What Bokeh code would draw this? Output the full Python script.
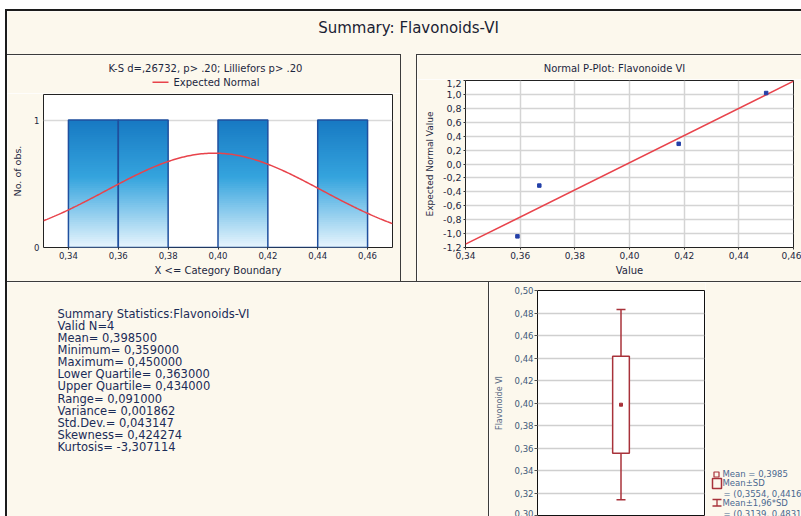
import numpy as np
from bokeh.plotting import figure
from bokeh.layouts import row, column
from bokeh.models import Range1d, FixedTicker, CustomJSTickFormatter, Div, Spacer
from bokeh.core.properties import value
from bokeh.embed import file_html
from bokeh.resources import INLINE

FONT = "DejaVu Sans"
BEIGE = "#fcf8ed"
RULE = "#3c3c3c"
OUTER = "#1c1c1c"
INK = "#1c2740"

# ---- data -----------------------------------------------------------------
VALUES = [0.359, 0.367, 0.418, 0.450]
MEAN = 0.3985
STD_DEV = 0.043147

BIN_EDGES = [0.34, 0.36, 0.38, 0.40, 0.42, 0.44, 0.46]
BIN_COUNTS = [1, 1, 0, 1, 0, 1]
HIST_X_TICKS = [0.34, 0.36, 0.38, 0.40, 0.42, 0.44, 0.46]
HIST_Y_TICKS = [0, 1]

EXPECTED_NORMAL = [-1.04, -0.31, 0.29, 1.02]
PPLOT_X_TICKS = [0.34, 0.36, 0.38, 0.40, 0.42, 0.44, 0.46]
PPLOT_Y_TICKS = [-1.2, -1.0, -0.8, -0.6, -0.4, -0.2, 0.0, 0.2, 0.4, 0.6, 0.8, 1.0, 1.2]

SUMMARY_LINES = [
    "Summary Statistics:Flavonoids-VI",
    "Valid N=4",
    "Mean= 0,398500",
    "Minimum= 0,359000",
    "Maximum= 0,450000",
    "Lower Quartile= 0,363000",
    "Upper Quartile= 0,434000",
    "Range= 0,091000",
    "Variance= 0,001862",
    "Std.Dev.= 0,043147",
    "Skewness= 0,424274",
    "Kurtosis= -3,307114",
]

BOX_MEAN = 0.3985
BOX_SD = [0.3554, 0.4416]
BOX_196SD = [0.3139, 0.4831]
BOX_Y_TICKS = [0.30, 0.32, 0.34, 0.36, 0.38, 0.40, 0.42, 0.44, 0.46, 0.48, 0.50]
BOX_LEGEND = ["Mean = 0,3985", "Mean±SD", "= (0,3554, 0,4416)",
              "Mean±1,96*SD", "= (0,3139, 0,4831)"]


# ---- helpers --------------------------------------------------------------
def comma_fmt(digits):
    return CustomJSTickFormatter(code=f"""
        const v = Math.abs(tick) < 1e-9 ? 0 : tick;
        return v.toFixed({digits}).replace('.', ',');
    """)


def strip(w, h, color):
    return Div(text="", width=w, height=h, margin=0,
               styles={"background-color": color})


def canvas(w, h):
    """A beige panel whose data space is its own pixel grid (y downward)."""
    p = figure(width=w, height=h, x_range=Range1d(0, w), y_range=Range1d(h, 0),
               output_backend="svg", toolbar_location=None, tools="",
               min_border=0, x_axis_location=None, y_axis_location=None,
               title=None, background_fill_color=BEIGE, frame_align=False,
               border_fill_color=BEIGE, outline_line_color=None, margin=0)
    p.grid.visible = False
    return p


def style_axis(ax, size, color=INK):
    ax.major_label_text_font = FONT
    ax.major_label_text_font_size = size
    ax.major_label_text_color = color
    ax.axis_label_text_font = FONT
    ax.axis_label_text_font_style = "normal"
    ax.axis_label_text_color = color
    ax.axis_line_color = None
    ax.minor_tick_line_color = None
    ax.major_tick_line_color = "#333333"


def txt(p, x, y, s, size, color=INK, align="left"):
    p.text(x=[x], y=[y], text=[s], text_font=value(FONT),
           text_font_size=size, text_color=color, text_align=align,
           text_baseline="middle")


# ---- title strip ----------------------------------------------------------
title_fig = canvas(794, 43)
txt(title_fig, 401, 16, "Summary: Flavonoids-VI", "15px", "#1a2233", "center")

# ---- histogram panel --------------------------------------------------------
headA = canvas(393, 38)
txt(headA, 198, 12.7, "K-S d=,26732, p> .20; Lilliefors p> .20", "10px", INK, "center")
headA.line(x=[145, 161], y=[26.7, 26.7], line_color="#e8434b", line_width=1.5)
txt(headA, 166, 26.7, "Expected Normal", "10px", INK)

plotA = figure(width=393, height=188, x_range=Range1d(0.33, 0.47),
               y_range=Range1d(0, 1.2), output_backend="svg",
               toolbar_location=None, tools="", title=None, margin=0,
               frame_align=False,
               min_border_left=36, min_border_right=8, min_border_top=1,
               min_border_bottom=34, background_fill_color="white",
               border_fill_color=BEIGE, outline_line_color="#222222")
plotA.xgrid.visible = False
plotA.ygrid.ticker = FixedTicker(ticks=HIST_Y_TICKS)
plotA.ygrid.grid_line_color = "#d9d9d9"
plotA.ygrid.grid_line_width = 1.5
plotA.xaxis.ticker = FixedTicker(ticks=HIST_X_TICKS)
plotA.xaxis.formatter = comma_fmt(2)
plotA.yaxis.ticker = FixedTicker(ticks=HIST_Y_TICKS)
plotA.yaxis.formatter = comma_fmt(0)
plotA.xaxis.axis_label = "X <= Category Boundary"
plotA.yaxis.axis_label = "No. of obs."
style_axis(plotA.xaxis[0], "8.5px")
style_axis(plotA.yaxis[0], "8.5px")
plotA.xaxis.axis_label_text_font_size = "10px"
plotA.yaxis.axis_label_text_font_size = "9.5px"
plotA.xaxis.major_tick_out = 2
plotA.xaxis.major_tick_in = 0
plotA.xaxis.major_label_standoff = 2
plotA.xaxis.axis_label_standoff = 3
plotA.yaxis.major_tick_out = 0
plotA.yaxis.major_tick_in = 0
plotA.yaxis.major_label_standoff = 4
plotA.yaxis.axis_label_standoff = 8

# bars with a vertical blue gradient, built from stacked slices
top_rgb = np.array([0x17, 0x79, 0xc2])
mid_rgb = np.array([0x35, 0xa4, 0xde])
low_rgb = np.array([0xe8, 0xf5, 0xfd])
n_slices = 60
sl_left, sl_right, sl_bot, sl_top, sl_col = [], [], [], [], []
for i, c in enumerate(BIN_COUNTS):
    if c <= 0:
        continue
    for k in range(n_slices):
        f = (k + 0.5) / n_slices  # 0 at bottom, 1 at top
        if f < 0.55:
            rgb = low_rgb + (mid_rgb - low_rgb) * (f / 0.55)
        else:
            rgb = mid_rgb + (top_rgb - mid_rgb) * ((f - 0.55) / 0.45)
        sl_left.append(BIN_EDGES[i])
        sl_right.append(BIN_EDGES[i + 1])
        sl_bot.append(c * k / n_slices)
        sl_top.append(min(c, c * (k + 1.4) / n_slices))
        sl_col.append("#%02x%02x%02x" % tuple(int(round(v)) for v in rgb))
plotA.quad(left=sl_left, right=sl_right, bottom=sl_bot, top=sl_top,
           fill_color=sl_col, line_color=None)
plotA.quad(left=BIN_EDGES[:-1], right=BIN_EDGES[1:], bottom=0, top=BIN_COUNTS,
           fill_color=None, line_color="#1f4f9e", line_width=1.5)

# expected normal curve scaled to counts per bin
bin_w = BIN_EDGES[1] - BIN_EDGES[0]
xs = np.linspace(0.33, 0.47, 200)
ys = len(VALUES) * bin_w * np.exp(-0.5 * ((xs - MEAN) / STD_DEV) ** 2) / (STD_DEV * np.sqrt(2 * np.pi))
plotA.line(x=xs, y=ys, line_color="#e8434b", line_width=1.5)

colA = column(headA, plotA, spacing=0, margin=0)

# ---- normal probability plot --------------------------------------------------
headB = canvas(384, 24)
txt(headB, 197, 12.7, "Normal P-Plot: Flavonoide VI", "10px", INK, "center")

plotB = figure(width=384, height=202, x_range=Range1d(0.34, 0.46),
               y_range=Range1d(-1.2, 1.2), output_backend="svg",
               toolbar_location=None, tools="", title=None, margin=0,
               frame_align=False,
               min_border_left=48, min_border_right=8, min_border_top=1,
               min_border_bottom=34, background_fill_color="white",
               border_fill_color=BEIGE, outline_line_color="#222222")
plotB.xaxis.ticker = FixedTicker(ticks=PPLOT_X_TICKS)
plotB.yaxis.ticker = FixedTicker(ticks=PPLOT_Y_TICKS)
plotB.xaxis.formatter = comma_fmt(2)
plotB.yaxis.formatter = comma_fmt(1)
plotB.grid.grid_line_color = "#d4d4d4"
plotB.grid.grid_line_width = 1.5
plotB.xaxis.axis_label = "Value"
plotB.yaxis.axis_label = "Expected Normal Value"
style_axis(plotB.xaxis[0], "9px")
style_axis(plotB.yaxis[0], "9.5px")
plotB.xaxis.axis_label_text_font_size = "10px"
plotB.yaxis.axis_label_text_font_size = "9px"
plotB.xaxis.major_tick_out = 2
plotB.xaxis.major_tick_in = 0
plotB.xaxis.major_label_standoff = 2
plotB.xaxis.axis_label_standoff = 3
plotB.yaxis.major_tick_out = 2
plotB.yaxis.major_tick_in = 0
plotB.yaxis.major_label_standoff = 2
plotB.yaxis.axis_label_standoff = 5

slope, icept = np.polyfit(VALUES, EXPECTED_NORMAL, 1)
fx = np.array([0.34, 0.46])
plotB.line(x=fx, y=slope * fx + icept, line_color="#e8434b", line_width=1.5)
plotB.scatter(x=VALUES, y=EXPECTED_NORMAL, marker="square", size=3.5,
              fill_color="#2440a8", line_color="#2440a8")

colB = column(headB, plotB, spacing=0, margin=0)

row1 = row(colA, strip(1, 226, RULE), strip(15, 226, BEIGE), strip(1, 226, RULE),
           colB, spacing=0, margin=0)
line_row = row(strip(394, 1, RULE), strip(15, 1, BEIGE), strip(385, 1, RULE),
               spacing=0, margin=0)

# ---- summary statistics text ---------------------------------------------
figC = canvas(481, 234)
figC.text(x=[50] * len(SUMMARY_LINES),
          y=[31 + 12.15 * i for i in range(len(SUMMARY_LINES))],
          text=SUMMARY_LINES, text_font=value(FONT), text_font_size="11.5px",
          text_color="#1b2c58", text_align="left", text_baseline="middle")

# ---- box plot -------------------------------------------------------------
BOX_RED = "#a8323a"
plotD = figure(width=216, height=234, x_range=Range1d(0, 1),
               y_range=Range1d(0.30, 0.50), output_backend="svg",
               toolbar_location=None, tools="", title=None, margin=0,
               x_axis_location=None, frame_align=False,
               min_border_left=48, min_border_right=1, min_border_top=8,
               min_border_bottom=1, background_fill_color="white",
               border_fill_color=BEIGE, outline_line_color="#111111")
plotD.xgrid.visible = False
plotD.ygrid.ticker = FixedTicker(ticks=BOX_Y_TICKS)
plotD.ygrid.grid_line_color = "#cfcfcf"
plotD.ygrid.grid_line_width = 1.5
plotD.yaxis.ticker = FixedTicker(ticks=BOX_Y_TICKS)
plotD.yaxis.formatter = comma_fmt(2)
plotD.yaxis.axis_label = "Flavonoide VI"
style_axis(plotD.yaxis[0], "8.5px", "#3f5878")
plotD.yaxis.axis_label_text_font_size = "8px"
plotD.yaxis.axis_label_text_color = "#5a6a84"
plotD.yaxis.major_tick_out = 3
plotD.yaxis.major_tick_in = 0
plotD.yaxis.major_tick_line_color = "#555555"
plotD.yaxis.major_label_standoff = 1
plotD.yaxis.axis_label_standoff = 8

cx = 0.5
plotD.segment(x0=[cx, cx], y0=[BOX_SD[1], BOX_SD[0]], x1=[cx, cx],
              y1=[BOX_196SD[1], BOX_196SD[0]], line_color=BOX_RED, line_width=1.5)
plotD.segment(x0=[cx - 0.027] * 2, y0=BOX_196SD, x1=[cx + 0.027] * 2,
              y1=BOX_196SD, line_color=BOX_RED, line_width=1.5)
plotD.quad(left=[cx - 0.05], right=[cx + 0.05], bottom=[BOX_SD[0]],
           top=[BOX_SD[1]], fill_color="white", line_color=BOX_RED, line_width=1.5)
plotD.scatter(x=[cx], y=[BOX_MEAN], marker="square", size=3,
              fill_color=BOX_RED, line_color=BOX_RED)

# legend beside the box plot
legD = canvas(96, 234)
LEG_INK = "#4a6890"
legD.scatter(x=[11], y=[192], marker="square", size=5, fill_color=None,
             line_color=BOX_RED, line_width=1.2)
legD.quad(left=[7], right=[16], bottom=[206], top=[196], fill_color=None,
          line_color=BOX_RED, line_width=1.5)
legD.segment(x0=[11.5, 7, 7], y0=[217, 217, 223.5], x1=[11.5, 16, 16],
             y1=[223.5, 217, 223.5], line_color=BOX_RED, line_width=1.3)
legD.text(x=[17, 17, 18, 17, 18], y=[191, 200, 211, 220, 231], text=BOX_LEGEND,
          text_font=value(FONT), text_font_size="8.5px", text_color=LEG_INK,
          text_align="left", text_baseline="middle")

row2 = row(figC, strip(1, 234, RULE), plotD, legD, spacing=0, margin=0)

# ---- assemble ---------------------------------------------------------------
content = column(title_fig, line_row, row1, strip(794, 1, RULE), row2,
                 spacing=0, margin=0)
framed = column(strip(796, 2, OUTER),
                row(strip(2, 505, OUTER), content, spacing=0, margin=0),
                spacing=0, margin=0)
root = column(Spacer(width=801, height=9, margin=0),
              row(Spacer(width=5, height=507, margin=0), framed, spacing=0, margin=0),
              spacing=0, margin=0)

open("out.html", "w").write(file_html(root, INLINE))
